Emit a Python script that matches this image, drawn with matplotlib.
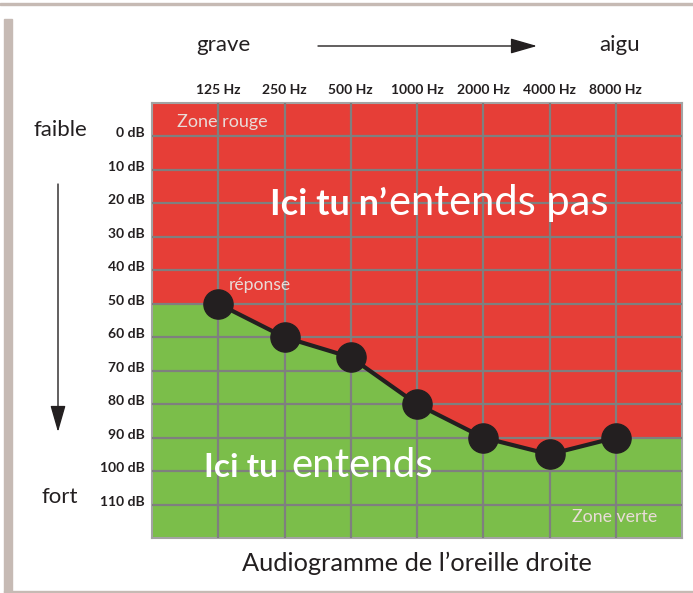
import matplotlib
matplotlib.use('Agg')
import matplotlib.pyplot as plt
import matplotlib.transforms as mtransforms
from matplotlib.patches import Rectangle

plt.rcParams['font.family'] = ['Lato', 'DejaVu Sans']

freq_labels = ['125 Hz', '250 Hz', '500 Hz', '1000 Hz', '2000 Hz', '4000 Hz', '8000 Hz']
db_levels = [50, 60, 66, 80, 90, 95, 90]
db_ticks = [0, 10, 20, 30, 40, 50, 60, 70, 80, 90, 100, 110]
db_labels = [f'{d} dB' for d in db_ticks]

red = '#e63e37'
green = '#7bbe4a'
dark = '#231f20'
grid_col = '#7f7f7f'
frame_col = '#c6bab4'
soft = '#e9dcd8'

W, H = 693, 593
fig = plt.figure(figsize=(W / 100, H / 100), dpi=100)


def fx(px):
    return px / W


def fy(py):
    return 1 - py / H


# page frame
fig.patches.append(Rectangle((fx(4), fy(592)), fx(8), (588 - 15) / H,
                             transform=fig.transFigure, color=frame_col, zorder=0))
fig.patches.append(Rectangle((0, fy(5)), 1, 2 / H,
                             transform=fig.transFigure, color=frame_col, zorder=0))
fig.patches.append(Rectangle((fx(4), fy(593)), 1, 2 / H,
                             transform=fig.transFigure, color=frame_col, zorder=0))

ax = fig.add_axes([fx(152), fy(538), (682 - 152) / W, (538 - 103) / H])
ax.set_xlim(0, 8)
ax.set_ylim(120, -10)
ax.set_facecolor(red)

xs = list(range(1, len(db_levels) + 1))
edge_x = [0] + xs + [len(db_levels) + 1]
edge_y = [db_levels[0]] + db_levels + [db_levels[-1]]
ax.fill_between(edge_x, edge_y, 120, color=green, lw=0, zorder=1)

ax.set_axisbelow(False)
ax.set_xticks(xs)
ax.set_xticklabels(freq_labels)
ax.set_yticks(db_ticks)
ax.set_yticklabels([])
ax.grid(True, color=grid_col, lw=1.6)
ax.xaxis.tick_top()
ax.tick_params(length=0, labelsize=10, labelcolor=dark)
ax.tick_params(axis='x', pad=5)
for lab in ax.get_xticklabels():
    lab.set_fontweight('bold')
for sp in ax.spines.values():
    sp.set_color('#a3a3a3')
    sp.set_linewidth(1.5)

ylab_tr = mtransforms.blended_transform_factory(ax.transAxes, ax.transData)
for d, lab in zip(db_ticks, db_labels):
    ax.text(-7 / 530, d + 0.3, lab, transform=ylab_tr, ha='right', va='baseline',
            fontsize=10, fontweight='bold', color=dark)

ax.plot(xs, db_levels, '-o', color=dark, lw=3, ms=21, zorder=4)

# labels inside the chart
ax.text(1.06, -4.3, 'Zone rouge', color=soft, fontsize=13, ha='center', va='center')
ax.text(1.63, 44.4, 'réponse', color=soft, fontsize=12.6, ha='center', va='center')
ax.text(6.99, 113.7, 'Zone verte', color=soft, fontsize=12.8, ha='center', va='center')

ax.text(3.55, 23.5, 'Ici tu n\u2019', color='white', fontsize=26, fontweight='bold',
        ha='right', va='baseline')
ax.text(3.58, 23.5, 'entends pas', color='white', fontsize=30,
        ha='left', va='baseline')
ax.text(1.90, 101.8, 'Ici tu', color='white', fontsize=24, fontweight='bold',
        ha='right', va='baseline')
ax.text(2.10, 101.8, 'entends', color='white', fontsize=29,
        ha='left', va='baseline')

# text and arrows around the chart
fig.text(fx(223), fy(45), 'grave', fontsize=16, color=dark, ha='center', va='center')
fig.text(fx(620), fy(45), 'aigu', fontsize=16, color=dark, ha='center', va='center')
fig.text(fx(60), fy(130), 'faible', fontsize=16, color=dark, ha='center', va='center')
fig.text(fx(60), fy(497), 'fort', fontsize=16, color=dark, ha='center', va='center')
fig.text(fx(417), fy(563), 'Audiogramme de l\u2019oreille droite', fontsize=18.3,
         color=dark, ha='center', va='center')

arrow = dict(arrowstyle='-|>,head_length=0.66,head_width=0.19', color=dark, lw=1,
             mutation_scale=25, shrinkA=0, shrinkB=0)
ax.annotate('', xy=(fx(537), fy(46)), xytext=(fx(318), fy(46)),
            xycoords='figure fraction', textcoords='figure fraction', arrowprops=arrow,
            annotation_clip=False)
ax.annotate('', xy=(fx(58), fy(432)), xytext=(fx(58), fy(184)),
            xycoords='figure fraction', textcoords='figure fraction', arrowprops=arrow,
            annotation_clip=False)

fig.savefig('out.png', dpi=100)
